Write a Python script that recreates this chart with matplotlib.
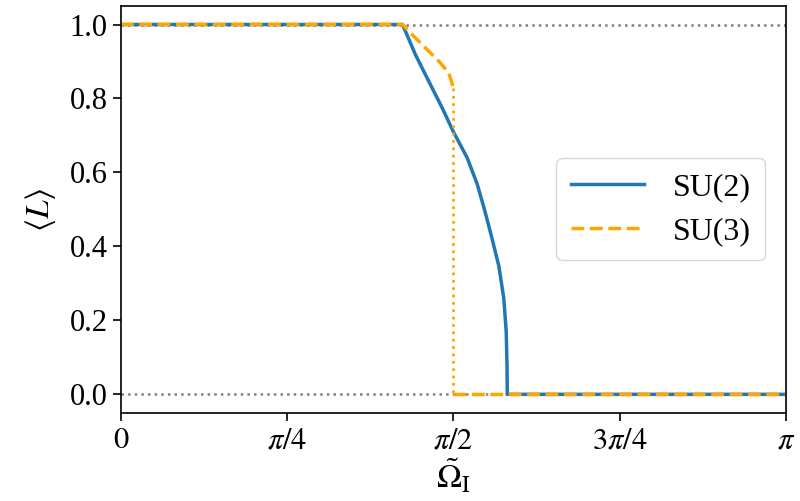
import numpy as np
import matplotlib.pyplot as plt

plt.rcParams['mathtext.fontset'] = 'stix'
plt.rcParams['font.family'] = 'serif'
plt.rcParams['font.serif'] = ['Liberation Serif', 'DejaVu Serif']

# x values in units of pi
su2_x = [0.0, 0.4236, 0.4428, 0.4628, 0.4830, 0.5005, 0.5206, 0.5357, 0.5471,
         0.5557, 0.5682, 0.5758, 0.5794, 0.5806, 0.5810, 0.5810, 1.0]
su2_y = [1.0, 1.0, 0.919, 0.847, 0.775, 0.708, 0.640, 0.569, 0.497,
         0.438, 0.348, 0.259, 0.169, 0.079, 0.010, 0.0, 0.0]

su3_x = [0.0, 0.4236, 0.4378, 0.4578, 0.4779, 0.4929, 0.5000]
su3_y = [1.0, 1.0, 0.973, 0.937, 0.901, 0.870, 0.829]
su3_jump_x = [0.5, 0.5]
su3_jump_y = [0.829, 0.0]
su3_low_x = [0.5, 1.0]
su3_low_y = [0.0, 0.0]

xticks = [0, 0.25, 0.5, 0.75, 1.0]
xticklabels = [r'$0$', r'$\pi/4$', r'$\pi/2$', r'$3\pi/4$', r'$\pi$']
yticks = [0.0, 0.2, 0.4, 0.6, 0.8, 1.0]

fig = plt.figure(figsize=(8, 5.01), dpi=100)
ax = fig.add_axes([0.151, 0.176, 0.8315, 0.812])

ax.axhline(0, color='gray', ls=':', lw=1.8)
ax.axhline(1, color='gray', ls=':', lw=1.8)

pi = np.pi
l2, = ax.plot(np.array(su2_x) * pi, su2_y, color='#1f77b4', lw=2.5)
l3, = ax.plot(np.array(su3_x) * pi, su3_y, color='orange', lw=2.5, ls='--')
ax.plot(np.array(su3_jump_x) * pi, su3_jump_y, color='orange', lw=2, ls=':')
ax.plot(np.array(su3_low_x) * pi, su3_low_y, color='orange', lw=2.5, ls='--')

ax.set_xlim(0, pi)
ax.set_ylim(-0.05, 1.05)
ax.set_xticks(np.array(xticks) * pi)
ax.set_xticklabels(xticklabels, fontsize=22)
ax.set_yticks(yticks)
ax.set_yticklabels(['%.1f' % v for v in yticks], fontsize=22)
ax.tick_params(length=6, width=1.2)
for s in ax.spines.values():
    s.set_linewidth(1.2)

ax.set_xlabel(r'$\tilde{\Omega}_\mathrm{I}$', fontsize=24, labelpad=2)
ax.set_ylabel(r'$\langle L\rangle$', fontsize=24, labelpad=8)

leg = ax.legend([l2, l3], ['SU(2)', 'SU(3)'], loc='center right',
                fontsize=23, handlelength=2.3, handletextpad=0.9,
                borderpad=0.45, labelspacing=0.45,
                bbox_to_anchor=(0.993, 0.5))

fig.savefig('out.png')
